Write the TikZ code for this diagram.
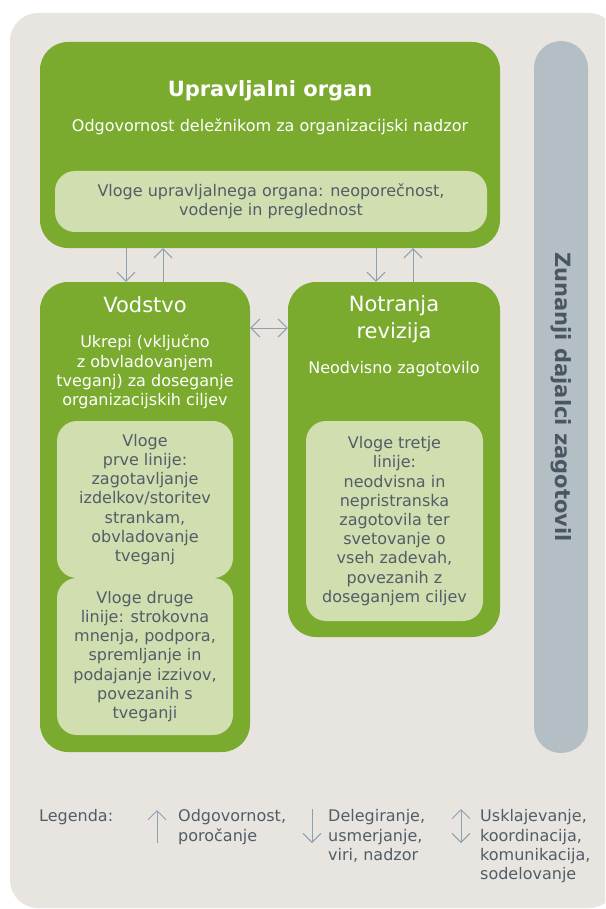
\documentclass[tikz,border=0pt]{standalone}
\usepackage{fontspec}
\setmainfont{DejaVu Sans}
\usetikzlibrary{arrows.meta}
\definecolor{bgc}{RGB}{232,229,225}
\definecolor{grn}{RGB}{122,171,46}
\definecolor{lgrn}{RGB}{209,222,176}
\definecolor{barc}{RGB}{180,190,197}
\definecolor{txtc}{RGB}{82,93,102}
\definecolor{bartxt}{RGB}{74,86,97}
\definecolor{arrc}{RGB}{143,160,173}
\newcommand\bodyf{\fontsize{16}{19.2}\selectfont}
\newcommand\titlef{\fontsize{21}{26.5}\selectfont}
\begin{document}
\begin{tikzpicture}[x=1pt,y=-1pt,
  gbox/.style={fill=grn, rounded corners=28pt, inner sep=0pt},
  lbox/.style={fill=lgrn, rounded corners=20pt, text=txtc, align=center, font=\bodyf, inner sep=0pt},
  wtxt/.style={text=white, align=center, inner sep=0pt},
  legtxt/.style={text=txtc, align=left, font=\bodyf, inner sep=0pt, anchor=north west},
  arr/.style={draw=arrc, line width=1pt, -{Straight Barb[length=9pt,width=18pt,line width=1pt]}},
  darr/.style={draw=arrc, line width=1pt, {Straight Barb[length=9pt,width=18pt,line width=1pt]}-{Straight Barb[length=9pt,width=18pt,line width=1pt]}}]
\useasboundingbox (0,0) rectangle (605,909);
\clip (0,0) rectangle (605,909);
% background
\fill[bgc, rounded corners=28pt] (10,13) rectangle (617,908);
% external bar
\node[fill=barc, rounded corners=27pt, minimum width=54pt, minimum height=712pt, inner sep=0pt] (bar) at (561,397) {};
\node[rotate=-90, text=bartxt, font=\fontsize{21}{25}\selectfont\bfseries, inner sep=0pt] (bart) at (bar.center) {Zunanji dajalci zagotovil};
% governing body
\node[gbox, minimum width=460pt, minimum height=206pt] (ub) at (270,145) {};
\node[wtxt, font=\titlef\bfseries, anchor=base] (ubt) at (270,97) {Upravljalni organ};
\node[wtxt, font=\bodyf, anchor=base] (ubs) at (270,132) {Odgovornost deležnikom za organizacijski nadzor};
\node[lbox, minimum width=432pt, minimum height=61pt] (ubi) at (271,201.5) {Vloge upravljalnega organa: neoporečnost,\\vodenje in preglednost};
% management
\node[gbox, minimum width=210pt, minimum height=470pt] (vod) at (145,517) {};
\node[wtxt, font=\titlef, anchor=base] (vodt) at (145,312) {Vodstvo};
\node[wtxt, font=\bodyf] (vods) at (145,372) {Ukrepi (vključno\\z obvladovanjem\\tveganj) za doseganje\\organizacijskih ciljev};
\node[lbox, minimum width=176pt, minimum height=157pt] (l1) at (145,499.5) {Vloge\\prve linije:\\zagotavljanje\\izdelkov/storitev\\strankam,\\obvladovanje\\tveganj};
\node[lbox, minimum width=176pt, minimum height=157pt] (l2) at (145,656.5) {Vloge druge\\linije: strokovna\\mnenja, podpora,\\spremljanje in\\podajanje izzivov,\\povezanih s\\tveganji};
% internal audit
\node[gbox, minimum width=212pt, minimum height=355pt] (nr) at (394,459.5) {};
\node[wtxt, font=\titlef] (nrt) at (394,319) {Notranja\\revizija};
\node[wtxt, font=\bodyf, anchor=base] (nrs) at (394,373) {Neodvisno zagotovilo};
\node[lbox, minimum width=177pt, minimum height=200pt] (l3) at (394.5,521) {Vloge tretje\\linije:\\neodvisna in\\nepristranska\\zagotovila ter\\svetovanje o\\vseh zadevah,\\povezanih z\\doseganjem ciljev};
% connectors
\coordinate (xa) at (126,0);
\coordinate (xb) at (163,0);
\coordinate (xc) at (376,0);
\coordinate (xd) at (413,0);
\coordinate (yh) at (0,328);
\draw[arr] (ub.south -| xa) -- (vod.north -| xa);
\draw[arr] (vod.north -| xb) -- (ub.south -| xb);
\draw[arr] (ub.south -| xc) -- (nr.north -| xc);
\draw[arr] (nr.north -| xd) -- (ub.south -| xd);
\draw[darr] (vod.east |- yh) -- (nr.west |- yh);
% legend
\node[text=txtc, font=\bodyf, inner sep=0pt, anchor=north west] (leg) at (39,809.5) {Legenda:};
\coordinate (la1) at (157,843);
\coordinate (la2) at (157,810);
\draw[arr] (la1) -- (la2);
\node[legtxt] (lt1) at (178,809.5) {Odgovornost,\\poročanje};
\coordinate (lb1) at (312,809);
\coordinate (lb2) at (312,843);
\draw[arr] (lb1) -- (lb2);
\node[legtxt] (lt2) at (328,809.5) {Delegiranje,\\usmerjanje,\\viri, nadzor};
\coordinate (lc1) at (461,809);
\coordinate (lc2) at (461,843);
\draw[darr] (lc1) -- (lc2);
\node[legtxt] (lt3) at (480,809.5) {Usklajevanje,\\koordinacija,\\komunikacija,\\sodelovanje};
\end{tikzpicture}
\end{document}
